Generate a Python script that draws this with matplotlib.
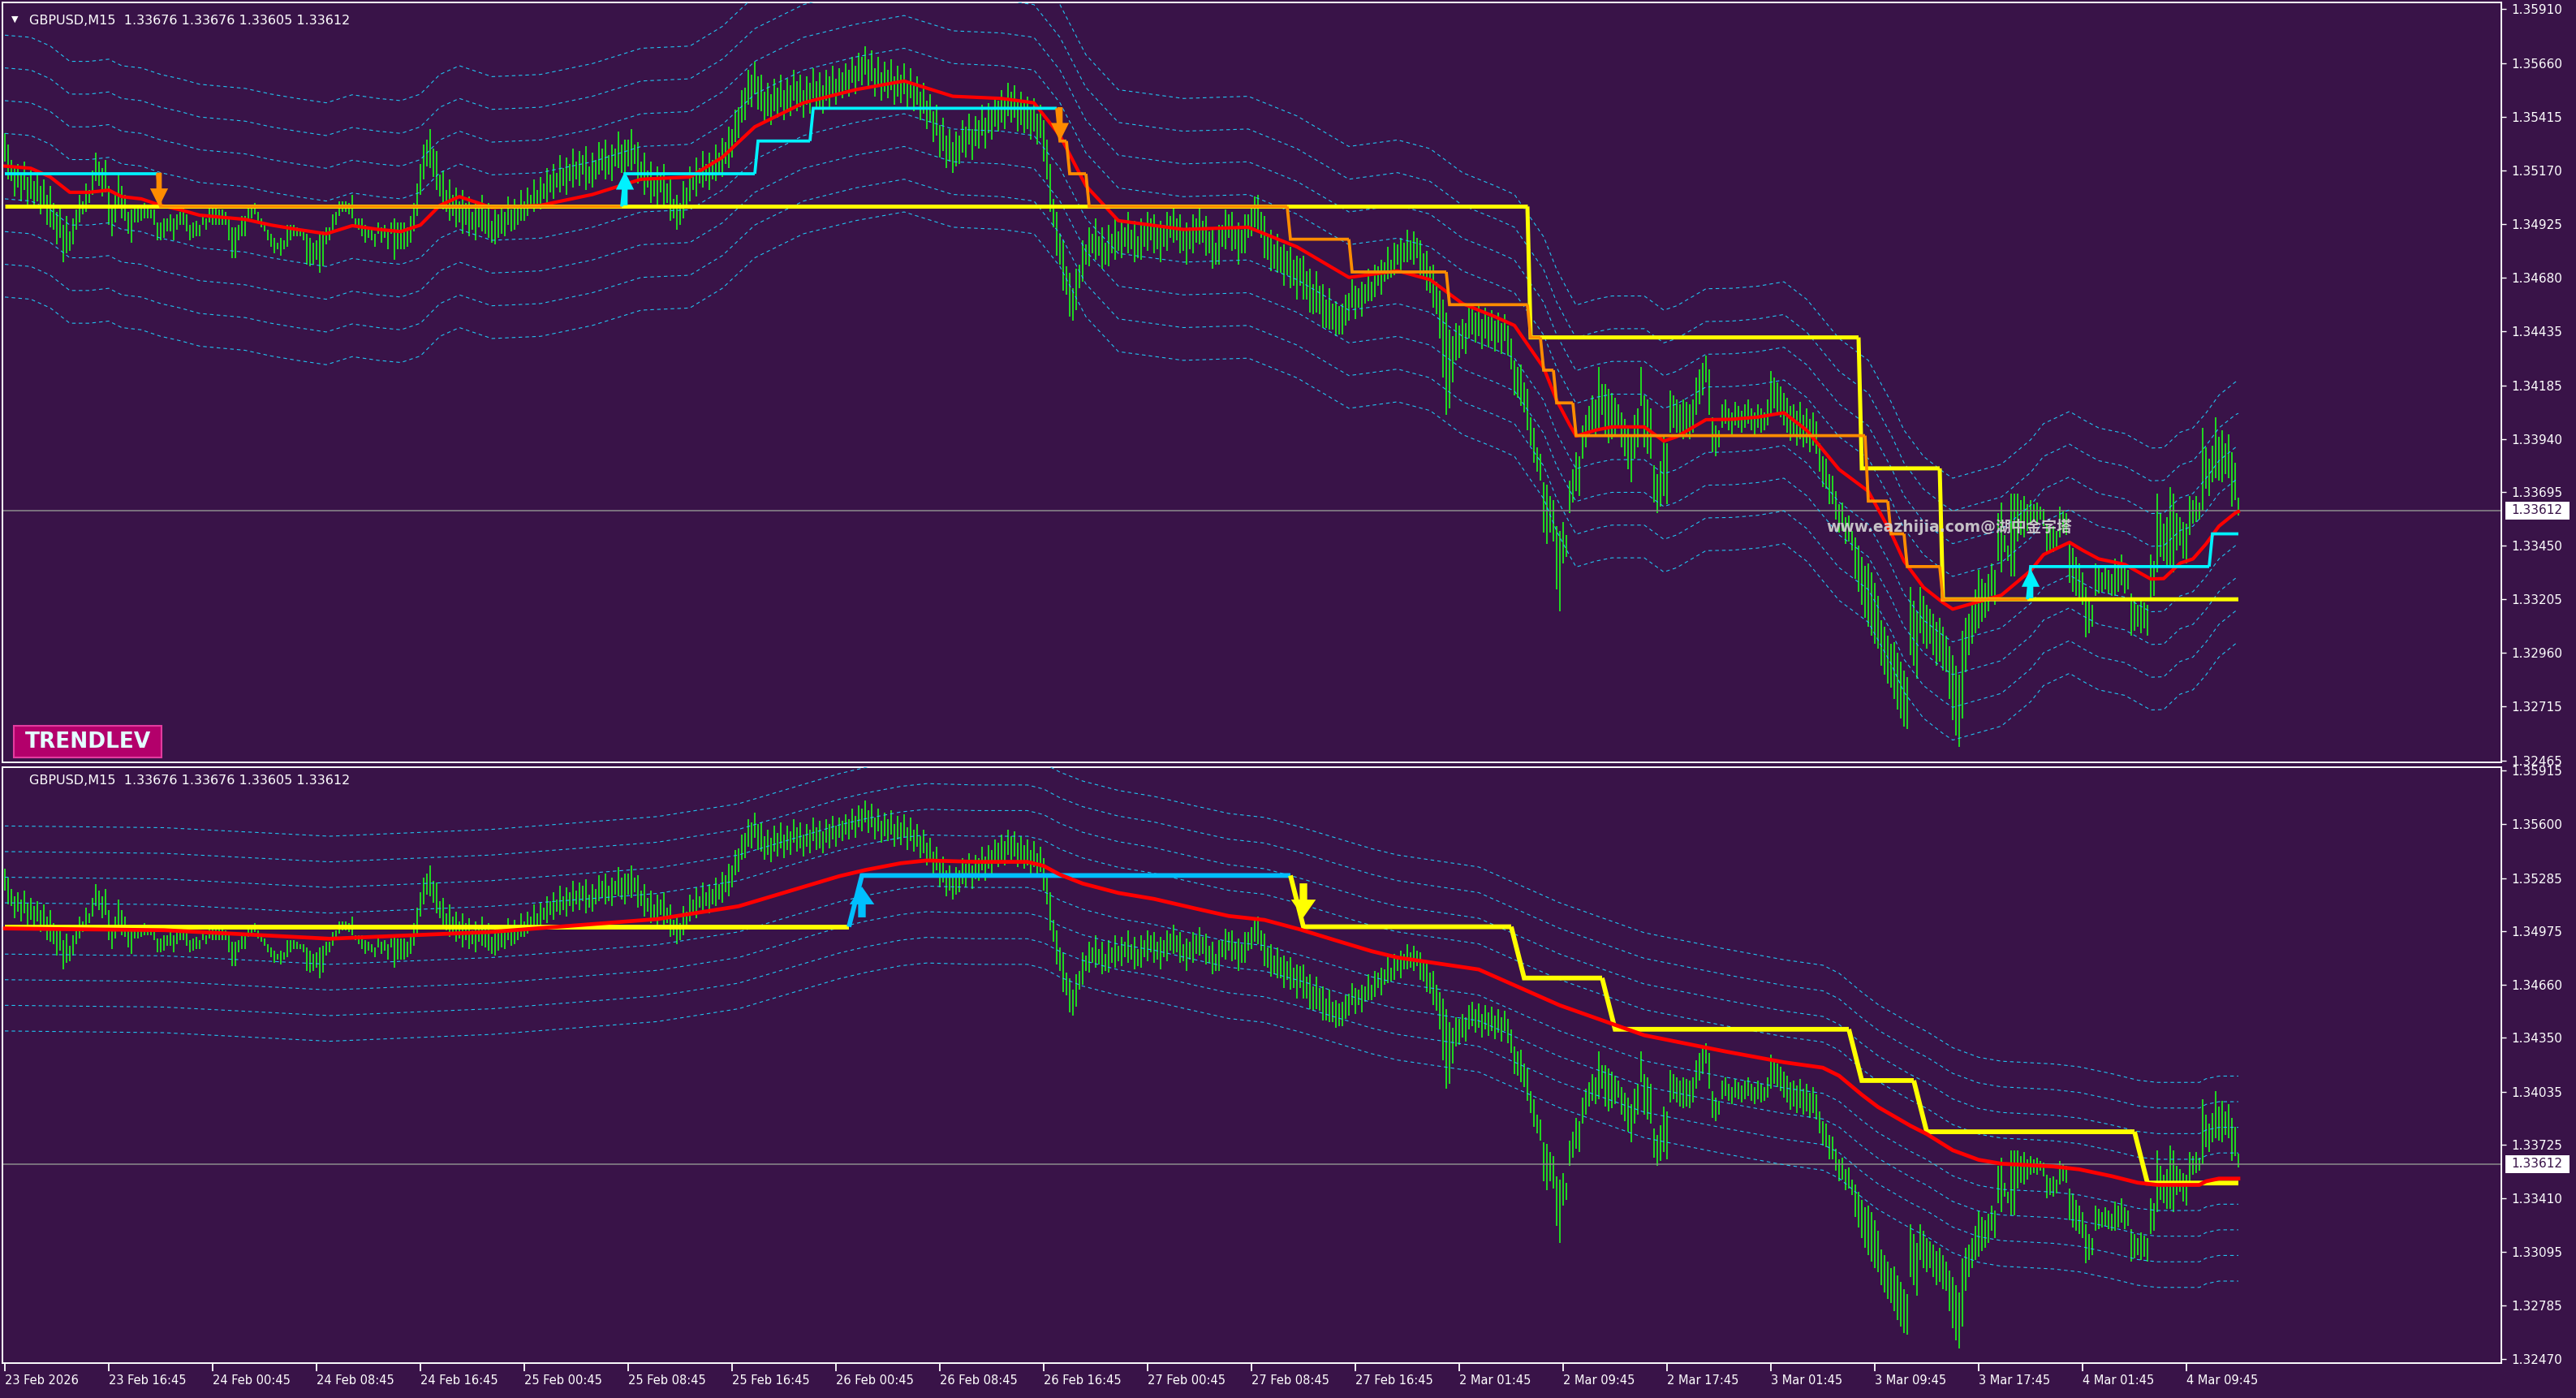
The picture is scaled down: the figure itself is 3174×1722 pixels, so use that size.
import numpy as np
import matplotlib
matplotlib.use("Agg")
import matplotlib.pyplot as plt
from matplotlib.patches import Rectangle
from matplotlib import font_manager

W, H, DPI = 3174, 1722, 100
BG = "#391348"
GREEN = "#1fe21f"
BAND = "#22c2f0"
BASE, PIP = 1.32, 0.0001
PRICE_NOW = 1.33612

# ---- GBPUSD M15 bars, high / low in pips above 1.3200 (689 bars)
bar_hi = [
    334,329,322,318,320,316,321,314,317,312,315,310,313,306,310,302,298,300,292,296,289,295,299,306,303,311,308,317,325,321,318,322,
    310,301,306,316,310,306,298,299,300,300,300,302,301,299,299,293,293,295,295,297,295,297,298,300,297,292,293,294,292,296,295,300,
    300,300,299,299,298,295,291,291,292,296,296,300,301,302,298,295,293,290,288,286,284,286,285,292,292,292,291,290,290,288,286,284,
    285,288,289,291,291,297,298,303,303,303,302,306,295,295,295,292,291,290,288,293,291,292,290,293,295,293,293,293,291,296,302,311,
    320,329,331,336,327,326,315,317,308,313,306,309,303,308,302,305,298,303,300,306,299,302,294,299,297,301,298,305,299,304,301,308,
    303,309,306,313,308,314,311,318,315,320,316,324,318,323,320,327,321,326,324,328,319,325,322,330,327,331,324,329,327,335,329,331,
    331,336,329,330,321,325,317,321,313,319,316,320,311,313,304,306,302,312,309,319,316,323,318,326,320,325,322,329,325,332,330,337,
    336,345,346,354,355,363,361,367,360,361,353,357,352,359,355,361,354,359,356,363,358,361,354,360,357,364,358,362,356,363,360,365,
    359,364,362,366,363,369,365,371,369,374,368,372,364,369,362,367,363,368,360,365,361,366,358,364,357,360,353,357,349,352,344,347,
    338,341,333,336,330,335,333,340,337,343,336,342,340,347,341,348,345,351,349,354,350,357,353,356,349,353,348,351,345,350,343,347,
    340,331,320,304,298,288,285,273,270,263,272,274,285,283,291,288,295,287,291,284,292,288,295,289,294,291,298,290,294,287,295,292,
    298,295,297,291,294,292,298,296,301,295,297,290,293,291,297,295,300,294,296,289,291,284,292,292,299,297,298,291,293,290,297,297,
    300,305,306,298,296,288,290,283,288,282,283,280,282,276,278,277,278,271,272,265,271,264,265,258,263,256,257,255,256,260,261,267,
    264,263,266,265,272,266,274,273,276,275,282,276,284,283,286,284,290,285,289,286,285,279,280,273,274,266,262,258,252,244,241,247,
    246,249,247,254,256,252,255,249,254,250,253,248,252,247,251,246,240,230,227,228,220,217,204,199,190,187,174,173,168,166,154,152,
    156,150,175,180,188,186,200,205,209,214,212,227,219,219,217,215,213,210,206,203,200,196,205,208,227,214,212,208,182,178,184,195,
    192,216,214,212,210,212,211,210,212,222,226,229,232,226,204,200,198,210,212,208,206,211,209,207,210,212,208,206,210,208,206,212,
    225,222,220,218,215,213,209,210,207,211,205,208,203,206,202,192,186,185,178,177,170,164,165,158,159,152,149,145,140,136,137,133,
    128,122,111,108,104,100,101,96,92,88,85,126,120,115,126,122,118,116,114,110,112,108,104,99,95,90,86,106,112,114,118,125,
    134,130,128,132,137,134,160,165,150,145,169,169,169,166,168,164,166,164,165,163,162,155,153,154,152,163,161,160,147,144,140,137,
    133,126,120,118,137,135,133,136,134,132,139,137,141,136,134,123,120,118,121,119,118,141,138,169,160,155,158,172,169,160,158,156,
    155,168,166,168,165,199,190,185,191,204,195,198,192,196,188,183,167,
]
bar_lo = [
    321,313,312,305,309,303,308,301,304,300,303,297,300,292,291,290,283,286,275,279,280,283,290,293,297,298,302,306,312,310,305,307,
    292,287,293,300,295,294,288,284,293,293,294,295,295,295,292,285,285,286,289,289,285,290,292,292,289,285,286,287,287,292,290,293,
    292,292,292,292,292,285,277,277,285,287,287,294,295,297,293,291,289,285,282,279,281,278,281,282,285,287,287,287,285,274,273,274,
    276,270,273,283,285,289,292,296,298,298,297,295,292,290,287,284,286,285,282,288,284,286,281,288,276,281,281,281,282,284,289,296,
    306,313,319,318,314,308,305,299,298,294,296,291,293,288,292,287,290,285,291,289,288,286,284,283,286,288,287,292,289,290,292,294,
    294,296,300,298,301,299,304,302,307,304,309,307,310,306,312,309,313,310,315,308,311,309,313,315,317,313,315,312,319,318,316,313,
    319,317,320,311,312,306,309,302,305,300,307,301,302,294,295,290,292,295,300,303,308,305,311,309,312,308,313,312,316,314,320,318,
    323,330,332,339,340,347,346,352,345,344,339,342,338,344,341,346,340,345,342,349,344,346,341,347,343,350,345,346,343,349,346,351,
    347,352,350,354,351,357,352,358,356,361,355,358,351,356,349,353,350,354,347,351,348,352,345,350,344,347,340,343,336,339,330,333,
    323,326,318,321,316,319,320,325,323,329,322,328,327,333,327,334,331,337,335,339,336,342,339,341,335,338,334,336,331,335,329,332,
    321,313,298,291,278,274,262,260,250,248,253,263,266,274,273,279,276,278,272,274,273,279,276,280,277,282,279,281,275,277,276,282,
    280,285,279,281,275,282,280,286,284,285,279,280,274,281,279,284,283,284,278,279,272,274,274,282,281,286,280,281,274,279,279,286,
    287,291,290,286,277,276,271,272,270,270,264,269,263,264,258,264,258,258,252,251,252,251,245,245,244,244,241,242,242,246,248,254,
    249,254,250,256,257,257,259,264,260,266,267,268,269,274,270,275,275,276,274,277,269,268,262,261,254,251,240,222,205,208,220,230,
    231,235,233,240,242,238,241,235,240,236,239,234,238,233,239,232,226,214,213,209,206,198,191,183,179,175,151,146,151,147,125,115,
    137,140,160,165,170,168,185,190,195,198,196,199,205,195,192,194,196,200,190,186,180,174,185,190,209,190,187,185,165,160,163,168,
    164,197,199,197,195,194,195,194,197,205,210,214,220,205,188,186,190,199,201,198,196,200,199,197,199,201,198,196,199,197,198,200,
    205,208,206,204,200,197,193,195,191,194,190,192,188,191,187,179,172,171,164,164,157,151,152,146,147,143,130,124,118,112,108,104,
    100,98,90,86,82,80,75,70,66,62,61,95,90,84,105,100,98,100,95,90,92,88,87,75,65,58,53,66,87,95,100,105,
    107,110,112,115,122,118,138,133,142,138,131,131,147,150,149,152,155,156,155,157,154,141,143,142,144,149,151,150,128,124,122,120,
    118,103,105,108,122,123,124,125,123,122,122,124,127,123,125,104,106,108,105,107,104,120,122,133,140,138,135,135,133,143,145,139,
    137,150,155,156,157,161,171,168,174,176,175,174,178,176,163,166,159,
]

x_labels = ["23 Feb 2026", "23 Feb 16:45", "24 Feb 00:45", "24 Feb 08:45", "24 Feb 16:45",
            "25 Feb 00:45", "25 Feb 08:45", "25 Feb 16:45", "26 Feb 00:45", "26 Feb 08:45",
            "26 Feb 16:45", "27 Feb 00:45", "27 Feb 08:45", "27 Feb 16:45", "2 Mar 01:45",
            "2 Mar 09:45", "2 Mar 17:45", "3 Mar 01:45", "3 Mar 09:45", "3 Mar 17:45",
            "4 Mar 01:45", "4 Mar 09:45"]
label_every = 32

top_ticks = [1.35910, 1.35660, 1.35415, 1.35170, 1.34925, 1.34680, 1.34435, 1.34185,
             1.33940, 1.33695, 1.33450, 1.33205, 1.32960, 1.32715, 1.32465]
bot_ticks = [1.35915, 1.35600, 1.35285, 1.34975, 1.34660, 1.34350, 1.34035, 1.33725,
             1.33410, 1.33095, 1.32785, 1.32470]

# ---- top panel indicator: fast MA (pips)
red_top_x = [0, 8, 14, 20, 26, 32, 36, 42, 48, 54, 60, 74, 82, 90, 99, 107, 115, 122, 128, 134,
             140, 150, 165, 181, 196, 211, 221, 231, 246, 262, 277, 292, 307, 317, 325, 333, 343, 363, 383, 398,
             414, 429, 439, 449, 459, 465, 474, 478, 482, 484, 490, 495, 505, 511, 515, 524, 532, 540, 548, 555,
             565, 574, 581, 585, 591, 597, 600, 607, 615, 624, 628, 636, 640, 645, 653, 661, 665, 670, 674, 678,
             682, 687, 688]
red_top_p = [319, 318, 314, 307, 307, 308, 305, 304, 301, 299, 296.5, 294.6, 292, 290, 288, 291.7, 290, 289, 292, 301,
             305, 300, 301, 306, 313, 314, 323, 337, 348, 354, 358, 351, 350, 348, 333, 310, 294, 290, 291, 282,
             268, 271, 267, 256, 250, 246, 226.6, 211.7, 200.5, 195.3, 198, 199.5, 199.5, 193, 195, 202.8, 203, 204, 206, 198,
             180, 170, 151, 138, 126, 119, 116, 119, 122.4, 133.6, 141, 146.6, 143, 139, 136.5, 129.8, 130, 137, 139, 145.8,
             154, 160, 160.7]

# ---- bottom panel indicator: slow MA (pips)
red_bot_x = [0, 49, 100, 125, 150, 201, 226, 248, 257, 265, 276, 284, 299, 315, 320, 325, 332, 343, 354, 366,
             377, 388, 399, 410, 421, 429, 454, 479, 505, 530, 548, 560, 565, 572, 577, 582, 587, 592, 600, 608,
             615, 631, 639, 649, 657, 663, 676, 678, 682, 688]
red_bot_p = [299, 298, 293, 295, 297, 304.5, 312, 324.5, 329.6, 333.2, 337.2, 338.8, 338, 338, 335.6, 330.5, 325.3, 319.8, 316.3, 311,
             306.3, 304, 298.4, 292, 285.7, 282, 275, 254, 236.5, 227, 220.7, 217.5, 212.8, 201.7, 194.5, 189, 183.5, 178.7, 169.2, 163.6,
             161.3, 159.7, 158, 154, 150.2, 148.9, 148.9, 151, 152.6, 152.6]

band_pips = [15, 30, 45, 60]

# ---- level lines (start bar, end bar, price, colour key)
top_slow_start = [0, 470, 572, 597]
top_slow_end = [469, 571, 596, 688]
top_slow_level = [1.35005, 1.34405, 1.33805, 1.33205]
top_slow_key = ["y", "y", "y", "y"]

top_fast_start = [0, 48, 191, 232, 249, 325, 328, 334, 396, 415, 445, 470, 474, 478, 484, 574, 581, 586, 597, 624, 680]
top_fast_end = [47, 190, 231, 248, 324, 327, 333, 395, 414, 444, 469, 473, 477, 483, 573, 580, 585, 596, 623, 679, 688]
top_fast_level = [1.35155, 1.35005, 1.35155, 1.35305, 1.35455, 1.35305, 1.35155, 1.35005, 1.34855, 1.34705, 1.34555,
                  1.34405, 1.34255, 1.34105, 1.33955, 1.33655, 1.33505, 1.33355, 1.33205, 1.33355, 1.33505]
top_fast_key = ["c", "o", "c", "c", "c", "o", "o", "o", "o", "o", "o", "o", "o", "o", "o", "o", "o", "o", "o", "c", "c"]

bot_level_start = [0, 264, 400, 468, 496, 572, 592, 660]
bot_level_end = [260, 396, 464, 492, 568, 588, 656, 688]
bot_level_price = [1.3500, 1.3530, 1.3500, 1.3470, 1.3440, 1.3410, 1.3380, 1.3350]
bot_level_key = ["y", "b", "y", "y", "y", "y", "y", "y"]

# ---- signal arrows (bar, tail price, tip price, colour key)
top_arrow_bar = [47.5, 191, 325, 624]
top_arrow_tail = [1.35160, 1.35010, 1.35460, 1.33210]
top_arrow_tip = [1.35005, 1.35165, 1.35305, 1.33345]
top_arrow_key = ["o", "c", "o", "c"]

bot_arrow_bar = [264, 400]
bot_arrow_tail = [1.35055, 1.35254]
bot_arrow_tip = [1.35235, 1.35055]
bot_arrow_key = ["b", "y"]

COLORS = {"y": "#ffff00", "o": "#ff8c00", "c": "#00f2ff", "b": "#00bfff"}


def narrow_font():
    try:
        font_manager.findfont(font_manager.FontProperties(family="Liberation Sans Narrow"),
                              fallback_to_default=False)
        return "Liberation Sans Narrow", 14.5
    except ValueError:
        return "DejaVu Sans", 10.5


def panel(y0, y1, ticks, ylim):
    ax = fig.add_axes([3 / W, 1 - y1 / H, 3079 / W, (y1 - y0) / H])
    ax.set_facecolor(BG)
    for s in ax.spines.values():
        s.set_color("white")
        s.set_linewidth(1.4)
    ax.set_xlim(-0.75, 769.0)
    ax.set_ylim(*ylim)
    ax.yaxis.tick_right()
    ax.set_yticks(ticks)
    ax.set_yticklabels([f"{t:.5f}" for t in ticks])
    ax.tick_params(axis="y", colors="white", length=4, width=1, pad=5, labelsize=11)
    return ax


def draw_price(ax):
    idx = np.arange(len(bar_hi))
    hi = BASE + np.array(bar_hi) * PIP
    lo = BASE + np.array(bar_lo) * PIP
    ax.vlines(idx, lo, hi, colors=GREEN, linewidth=1.35, zorder=2)
    ax.axhline(PRICE_NOW, color="#8c8c8c", lw=1.1, zorder=2.5)


def draw_bands(ax, xs, ps):
    xs = np.array(xs)
    ps = np.array(ps)
    for k in band_pips:
        for sgn in (1, -1):
            ax.plot(xs, BASE + (ps + sgn * k) * PIP, color=BAND, lw=0.8,
                    ls=(0, (4, 3.5)), zorder=3)


def draw_levels(ax, starts, ends, levels, keys, lw, z):
    prev = None
    for x0, x1, lev, key in zip(starts, ends, levels, keys):
        xs, ys = [x0, x1], [lev, lev]
        if prev is not None:
            xs = [prev[0]] + xs
            ys = [prev[1]] + ys
        ax.plot(xs, ys, color=COLORS[key], lw=lw, zorder=z,
                solid_capstyle="butt", solid_joinstyle="miter")
        prev = (x1, lev)


def draw_arrows(ax, bars, tails, tips, keys, scale, hw, hl, tw):
    for b, t0, t1, key in zip(bars, tails, tips, keys):
        c = COLORS[key]
        ax.annotate("", xy=(b, t1), xytext=(b, t0), zorder=7,
                    arrowprops=dict(arrowstyle=f"simple,head_length={hl},head_width={hw},tail_width={tw}",
                                    fc=c, ec=c, lw=0, mutation_scale=scale,
                                    shrinkA=0, shrinkB=0))


def price_tag(ax, ax_h_px):
    ylo, yhi = ax.get_ylim()
    fy = (PRICE_NOW - ylo) / (yhi - ylo)
    h = 22 / ax_h_px
    ax.add_patch(Rectangle((1 + 5 / 3079, fy - h / 2), 79 / 3079, h, transform=ax.transAxes,
                           fc="white", ec="none", clip_on=False, zorder=8))
    ax.text(1 + 12 / 3079, fy, f"{PRICE_NOW:.5f}", transform=ax.transAxes, ha="left", va="center",
            fontsize=11, color=BG, zorder=9, clip_on=False)


fig = plt.figure(figsize=(W / DPI, H / DPI), dpi=DPI, facecolor=BG)

# ---------------- top panel
ax1 = panel(3, 939, top_ticks, (1.32458, 1.35940))
ax1.set_xticks([])
draw_price(ax1)
draw_bands(ax1, red_top_x, red_top_p)
ax1.plot(red_top_x, BASE + np.array(red_top_p) * PIP, color="#ff0000", lw=3.0, zorder=4)
draw_levels(ax1, top_slow_start, top_slow_end, top_slow_level, top_slow_key, 3.6, 5)
draw_levels(ax1, top_fast_start, top_fast_end, top_fast_level, top_fast_key, 2.7, 6)
draw_arrows(ax1, top_arrow_bar, top_arrow_tail, top_arrow_tip, top_arrow_key, 16, 1.0, 1.0, 0.3)
ax1.set_ylim(1.32458, 1.35940)
price_tag(ax1, 936)

# ---------------- bottom panel
ax2 = panel(945, 1679, bot_ticks, (1.32446, 1.35934))
draw_price(ax2)
draw_bands(ax2, red_bot_x, red_bot_p)
draw_levels(ax2, bot_level_start, bot_level_end, bot_level_price, bot_level_key, 4.2, 5)
ax2.plot(red_bot_x, BASE + np.array(red_bot_p) * PIP, color="#ff0000", lw=3.4, zorder=6)
draw_arrows(ax2, bot_arrow_bar, bot_arrow_tail, bot_arrow_tip, bot_arrow_key, 21, 1.05, 0.75, 0.32)
ax2.set_ylim(1.32446, 1.35934)
price_tag(ax2, 734)

xfont, xsize = narrow_font()
ax2.set_xticks(np.arange(len(x_labels)) * label_every)
ax2.set_xticklabels(x_labels, ha="left", fontfamily=xfont, fontsize=xsize)
ax2.tick_params(axis="x", colors="white", length=7, width=1.3, pad=3)

# ---------------- texts
header = "GBPUSD,M15  1.33676 1.33676 1.33605 1.33612"
fig.text(18 / W, 1 - 24 / H, "\u25bc", fontsize=8, color="white", ha="center", va="center")
fig.text(36 / W, 1 - 25 / H, header, fontsize=11.5, color="white", va="center")
fig.text(36 / W, 1 - 962 / H, header, fontsize=11.5, color="white", va="center")

fig.add_artist(Rectangle((17 / W, 1 - 933 / H), 182 / W, 39 / H, transform=fig.transFigure,
                         fc="#b3006b", ec="#e23c9f", lw=1.5))
fig.text(109 / W, 1 - 914 / H, "TRENDLEV", fontsize=19, fontweight="bold", color="#e4ffff",
         ha="center", va="center")

fig.text(2250 / W, 1 - 649 / H, "www.eazhijia.com@湖中金字塔", fontsize=13.5, fontweight="bold",
         color="#d4d4d4", alpha=0.9, va="center", family=["DejaVu Sans", "Noto Sans CJK SC"], zorder=10)

fig.savefig("out.png", dpi=DPI, facecolor=BG)
